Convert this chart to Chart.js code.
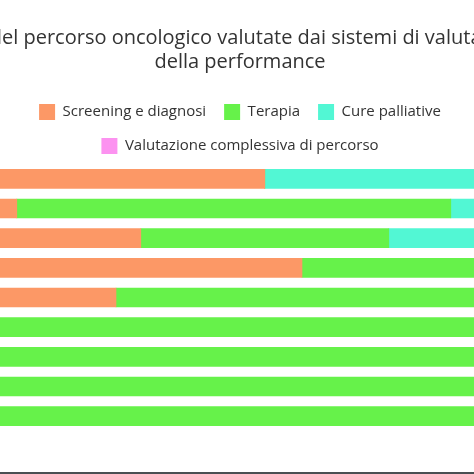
<!DOCTYPE html>
<html>
<head>
<meta charset="utf-8">
<script src="https://cdn.jsdelivr.net/npm/chart.js@4"></script>
<style>
  html, body { margin: 0; padding: 0; background: #fff; overflow: hidden; }
  #wrap { position: relative; width: 474px; height: 474px; overflow: hidden; }
  #box { position: absolute; left: -70px; top: 0; width: 670px; height: 474px; }
  #bottom { position: absolute; left: 0; bottom: 0; width: 474px; height: 2px; background: #4a4f52; }
</style>
</head>
<body>
<div id="wrap">
  <div id="box"><canvas id="grafico" width="670" height="474"></canvas></div>
  <div id="bottom"></div>
</div>
<script>
// Dati
const categorie = ['1', '2', '3', '4', '5', '6', '7', '8', '9'];
const screening = [54, 14, 34, 60, 30, 0, 0, 0, 0];
const terapia = [0, 70, 40, 40, 70, 100, 100, 100, 100];
const palliative = [46, 16, 26, 0, 0, 0, 0, 0, 0];
const complessiva = [0, 0, 0, 0, 0, 0, 0, 0, 0];

const ctx = document.getElementById('grafico').getContext('2d');
const myChart = new Chart(ctx, {
    type: 'bar',
    data: {
        labels: categorie,
        datasets: [
            { label: 'Screening e diagnosi', data: screening, backgroundColor: '#fc9866' },
            { label: 'Terapia', data: terapia, backgroundColor: '#66f24a' },
            { label: 'Cure palliative', data: palliative, backgroundColor: '#52f7d4' },
            { label: 'Valutazione complessiva di percorso', data: complessiva, backgroundColor: '#fc92f0' }
        ]
    },
    options: {
        indexAxis: 'y',
        responsive: false,
        animation: false,
        maintainAspectRatio: false,
        layout: { padding: { left: 0, right: 50, top: 0, bottom: 43 } },
        datasets: { bar: { barThickness: 19, borderWidth: 0 } },
        scales: {
            x: { stacked: true, display: false, min: 0, max: 100 },
            y: { stacked: true, display: false }
        },
        plugins: {
            title: {
                display: true,
                text: ['Fasi del percorso oncologico valutate dai sistemi di valutazione', 'della performance'],
                color: '#333',
                font: { family: 'Open Sans', size: 20, weight: 'normal' },
                padding: { top: 26, bottom: 12 },
                lineHeight: 1.45
            },
            legend: {
                labels: {
                    color: '#333',
                    font: { family: 'Open Sans', size: 15 },
                    boxWidth: 16,
                    boxHeight: 16,
                    padding: 18
                }
            },
            tooltip: { enabled: false }
        }
    }
});
</script>
</body>
</html>
